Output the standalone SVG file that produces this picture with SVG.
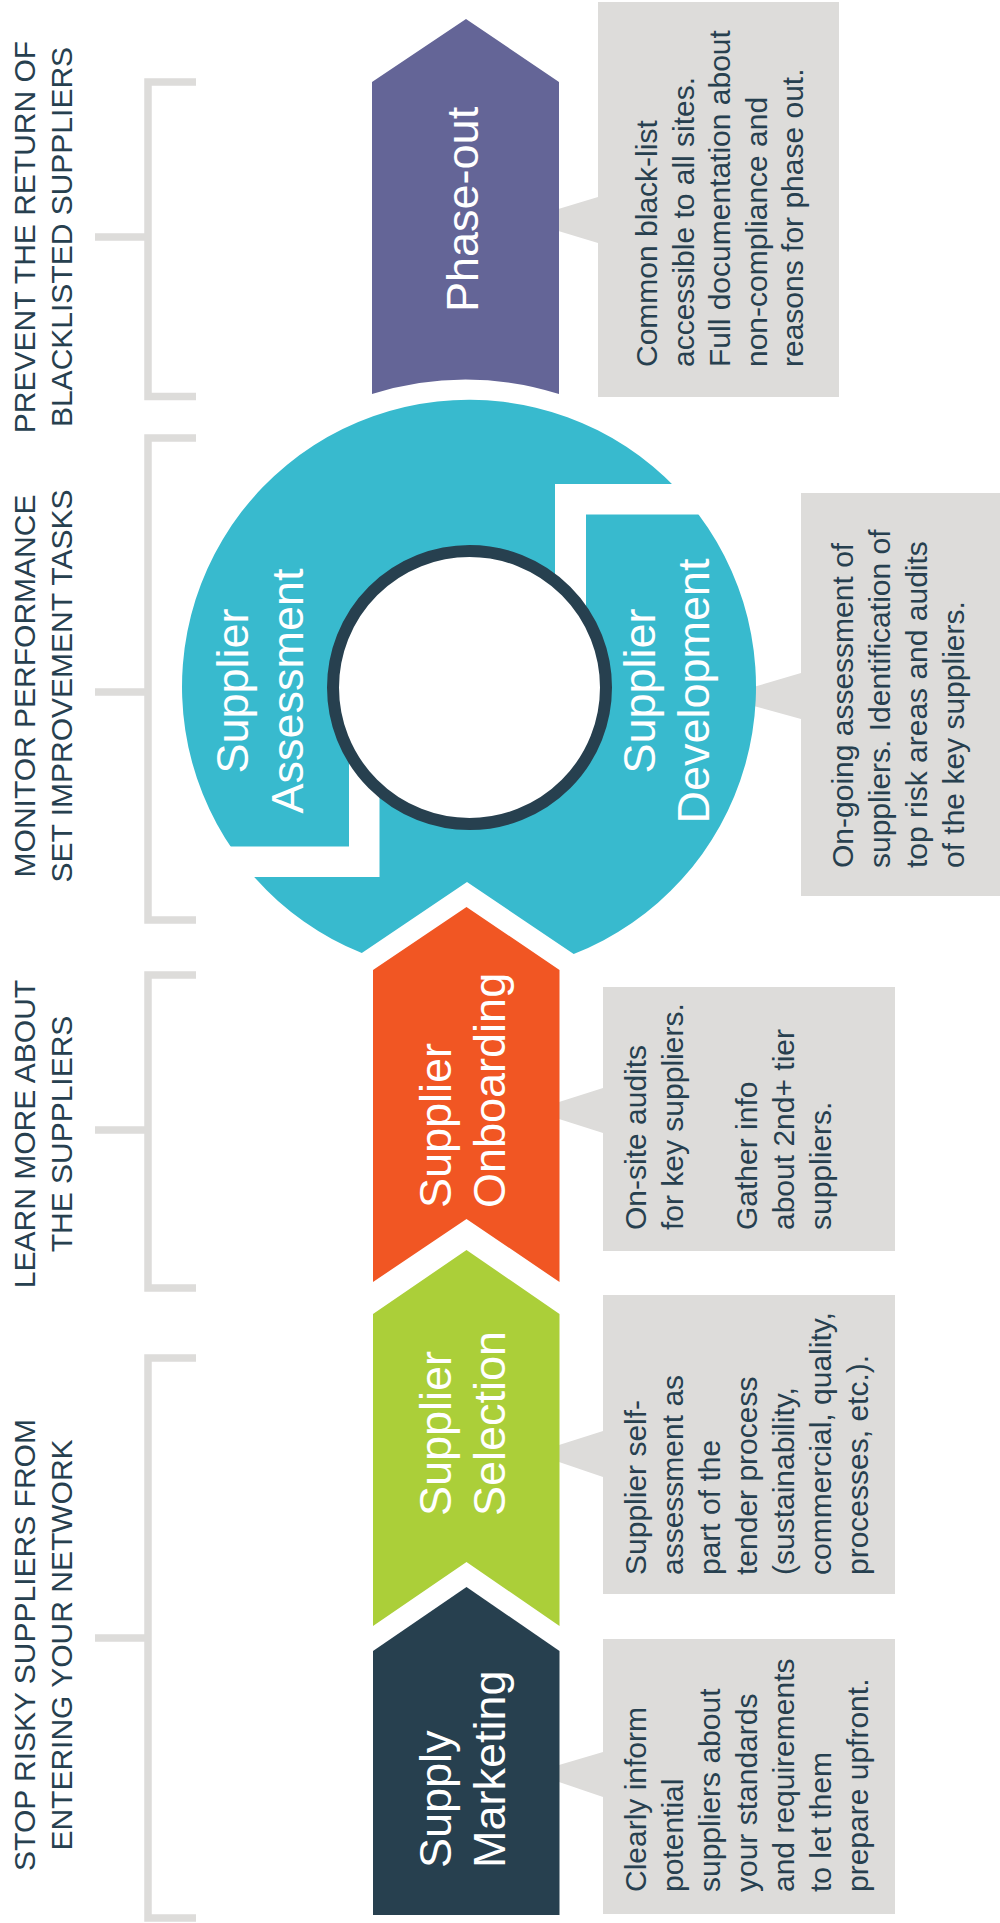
<svg xmlns="http://www.w3.org/2000/svg" width="1000" height="1923" viewBox="0 0 1000 1923">
<style>
text{font-family:"Liberation Sans",Arial,Helvetica,sans-serif}
.title{font-size:30px;fill:#27404f;text-anchor:middle}
.call{font-size:30px;fill:#27404f}
.lbl{font-size:45px;fill:#ffffff}
.mid{text-anchor:middle}
.box{fill:#dddcda}
.br{fill:none;stroke:#dddcda;stroke-width:7.5}
</style>
<rect width="1000" height="1923" fill="#ffffff"/>

<g id="connectors">
<path class="br" d="M196 82H148V396.5H196M95 237H148"/>
<path class="br" d="M196 438H148V920H196M95 692H148"/>
<path class="br" d="M196 975H148V1288H196M95 1130H148"/>
<path class="br" d="M196 1358H148V1918H196M95 1638H148"/>
</g>

<g id="title-prevent">
<text class="title" transform="rotate(-90)"><tspan x="-237" y="35">PREVENT THE RETURN OF</tspan><tspan x="-237" y="72">BLACKLISTED SUPPLIERS</tspan></text>
</g>
<g id="title-monitor">
<text class="title" transform="rotate(-90)"><tspan x="-686" y="35">MONITOR PERFORMANCE</tspan><tspan x="-686" y="72">SET IMPROVEMENT TASKS</tspan></text>
</g>
<g id="title-learn">
<text class="title" transform="rotate(-90)"><tspan x="-1134" y="35">LEARN MORE ABOUT</tspan><tspan x="-1134" y="72">THE SUPPLIERS</tspan></text>
</g>
<g id="title-stop">
<text class="title" transform="rotate(-90)"><tspan x="-1645" y="35">STOP RISKY SUPPLIERS FROM</tspan><tspan x="-1645" y="72">ENTERING YOUR NETWORK</tspan></text>
</g>

<g id="callout-phaseout">
<polygon class="box" points="598,197 555,210 555,230 598,243"/>
<rect class="box" x="598" y="2" width="241" height="395"/>
<text class="call" transform="rotate(-90)"><tspan x="-367" y="657">Common black-list</tspan><tspan x="-367" y="693.5">accessible to all sites.</tspan><tspan x="-367" y="730">Full documentation about</tspan><tspan x="-367" y="766.5">non-compliance and</tspan><tspan x="-367" y="803">reasons for phase out.</tspan></text>
</g>

<g id="node-phaseout">
<path fill="#646597" d="M372 82L466 19L559 82V394A308 308 0 0 0 372 394Z"/>
<text class="lbl" transform="rotate(-90)" x="-312" y="478">Phase-out</text>
</g>

<g id="callout-development">
<polygon class="box" points="801,673 750,688 750,705 801,719"/>
<rect class="box" x="801" y="493" width="199" height="403"/>
<text class="call" transform="rotate(-90)"><tspan x="-868" y="853">On-going assessment of</tspan><tspan x="-868" y="890">suppliers. Identification of</tspan><tspan x="-868" y="927">top risk areas and audits</tspan><tspan x="-868" y="964">of the key suppliers.</tspan></text>
</g>

<g id="node-cycle">
<path fill="#38bace" d="M361.8 953A287 287 0 1 1 573.7 954L467 882Z"/>
<path fill="#ffffff" d="M555 484H720V514.5H586V620H555Z"/>
<path fill="#ffffff" d="M170 846.5H349V720H379.5V877H170Z"/>
<circle cx="469.5" cy="687.5" r="136.5" fill="#ffffff" stroke="#27404f" stroke-width="12"/>
</g>
<g id="node-assessment">
<text class="lbl mid" transform="rotate(-90)"><tspan x="-691" y="248">Supplier</tspan><tspan x="-691" y="303">Assessment</tspan></text>
</g>
<g id="node-development">
<text class="lbl mid" transform="rotate(-90)"><tspan x="-691" y="655">Supplier</tspan><tspan x="-691" y="709">Development</tspan></text>
</g>

<g id="callout-onboarding">
<polygon class="box" points="603,1088 559,1102 559,1119 603,1133"/>
<rect class="box" x="603" y="987" width="292" height="264"/>
<text class="call" transform="rotate(-90)"><tspan x="-1230" y="646">On-site audits</tspan><tspan x="-1230" y="683">for key suppliers.</tspan><tspan x="-1230" y="757">Gather info</tspan><tspan x="-1230" y="794">about 2nd+ tier</tspan><tspan x="-1230" y="831">suppliers.</tspan></text>
</g>
<g id="node-onboarding">
<path fill="#f15623" d="M373 970L466.5 907L559.5 970V1282L466.5 1219L373 1282Z"/>
<text class="lbl" transform="rotate(-90)"><tspan x="-1208" y="451">Supplier</tspan><tspan x="-1208" y="505">Onboarding</tspan></text>
</g>

<g id="callout-selection">
<polygon class="box" points="603,1431 559,1445 559,1462 603,1477"/>
<rect class="box" x="603" y="1295" width="292" height="299"/>
<text class="call" transform="rotate(-90)"><tspan x="-1575" y="646">Supplier self-</tspan><tspan x="-1575" y="683">assessment as</tspan><tspan x="-1575" y="720">part of the</tspan><tspan x="-1575" y="757">tender process</tspan><tspan x="-1575" y="794">(sustainability,</tspan><tspan x="-1575" y="831">commercial, quality,</tspan><tspan x="-1575" y="868">processes, etc.).</tspan></text>
</g>
<g id="node-selection">
<path fill="#abcf39" d="M373 1314L466.5 1250L559.5 1314V1626L466.5 1562L373 1626Z"/>
<text class="lbl" transform="rotate(-90)"><tspan x="-1516" y="451">Supplier</tspan><tspan x="-1516" y="505">Selection</tspan></text>
</g>

<g id="callout-marketing">
<polygon class="box" points="603,1752 559,1765 559,1782 603,1797"/>
<rect class="box" x="603" y="1639" width="292" height="275"/>
<text class="call" transform="rotate(-90)"><tspan x="-1892" y="646">Clearly inform</tspan><tspan x="-1892" y="683">potential</tspan><tspan x="-1892" y="720">suppliers about</tspan><tspan x="-1892" y="757">your standards</tspan><tspan x="-1892" y="794">and requirements</tspan><tspan x="-1892" y="831">to let them</tspan><tspan x="-1892" y="868">prepare upfront.</tspan></text>
</g>
<g id="node-marketing">
<path fill="#27404f" d="M373 1651L466.5 1587L559.5 1651V1915H373Z"/>
<text class="lbl" transform="rotate(-90)"><tspan x="-1868" y="451">Supply</tspan><tspan x="-1868" y="505">Marketing</tspan></text>
</g>
</svg>
